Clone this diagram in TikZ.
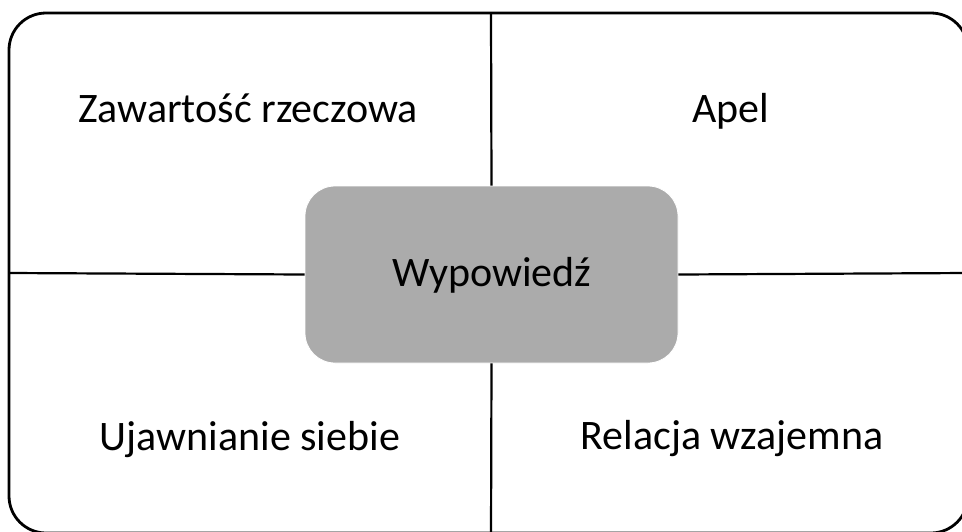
\documentclass[tikz,border=0pt]{standalone}
\usepackage{fontspec}
\setmainfont{Carlito}
\definecolor{boxgray}{HTML}{ABABAB}
\tikzset{
  lbl/.style={anchor=base, inner sep=0pt, font=\fontsize{42}{50}\selectfont},
  divider/.style={line width=2.2pt, black},
}
\begin{document}
\begin{tikzpicture}[x=1pt,y=-1pt]
\useasboundingbox (0,0) rectangle (962,531);
\clip (0,0) rectangle (962,531);
\draw[line width=2.8pt, rounded corners=37pt] (9,13) rectangle (968,533);
\coordinate (top) at (491,13);
\coordinate (bot) at (491,540);
\coordinate (left) at (9,273);
\coordinate (right) at (968,273);
\node[draw=white, line width=0.8pt, fill=boxgray, rounded corners=30pt, minimum width=373pt, minimum height=177pt, inner sep=0pt] (c) at (491.5,274.5) {};
\draw[divider] (top) -- (c.north);
\draw[divider] (c.south) -- (bot);
\draw[divider] (left) -- (c.west);
\draw[divider] (c.east) -- (right);
\node[lbl] (w) at (492,286) {Wypowiedź};
\node[lbl] (z) at (248,122) {Zawartość rzeczowa};
\node[lbl] (a) at (731,122) {Apel};
\node[lbl] (u) at (250,450) {Ujawnianie siebie};
\node[lbl] (r) at (732,449) {Relacja wzajemna};
\end{tikzpicture}
\end{document}
